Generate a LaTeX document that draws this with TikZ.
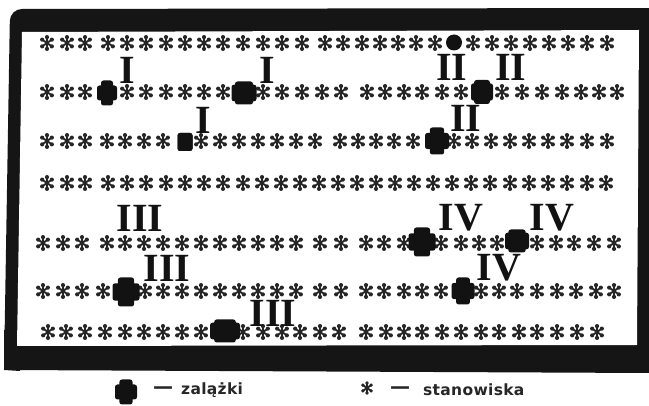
\documentclass[tikz,border=0pt]{standalone}
\usepackage{fontspec}
\newfontfamily\romfont{Liberation Serif}
\newfontfamily\legfont{DejaVu Sans}[LetterSpace=2]
\definecolor{framec}{HTML}{151515}
\definecolor{astc}{HTML}{262626}
\definecolor{blobc}{HTML}{121212}
\newcommand\myblob[5]{%
  \fill[blobc, rounded corners=2.5pt] ({#1-#3/2},{#2-#5*#4/2}) rectangle ({#1+#3/2},{#2+#5*#4/2});
  \fill[blobc, rounded corners=2.5pt] ({#1-#5*#3/2},{#2-#4/2}) rectangle ({#1+#5*#3/2},{#2+#4/2});
}
\tikzset{
  ast/.pic={
    \foreach \a in {90,35,145}{\draw[astc, line width=1.9pt, line cap=round] (\a:5.7pt) -- (\a+180:5.7pt);}
    \foreach \a in {35,90,145,215,270,325}{\fill[astc] (\a:5.9pt) circle [radius=2.1pt];}
  },
  rom/.style={font=\romfont\bfseries\fontsize{40}{40}\selectfont, text=blobc, inner sep=0pt},
  legtext/.style={font=\legfont\bfseries\fontsize{15.5}{16}\selectfont, text=astc, inner sep=0pt},
  legdash/.style={font=\legfont\bfseries\fontsize{20}{20}\selectfont, text=astc, inner sep=0pt},
}
\begin{document}
\begin{tikzpicture}[x=1pt,y=-1pt]
\useasboundingbox (0,0) rectangle (649,406);
\fill[white] (0,0) rectangle (649,406);
% frame
\fill[framec, rounded corners=12pt] (4,370) -- (10,9) -- (649,8) -- (649,373) -- cycle;
\fill[framec] (600,8) rectangle (649,60);
\fill[framec] (600,330) rectangle (649,373);
\fill[framec] (4,330) -- (20,330) -- (20,371) -- (4,370) -- cycle;
\fill[white] (22,32) -- (639,30) -- (637,345) -- (17,346) -- cycle;
% row 1
\foreach \x in {47,67,85,108,127,146,166,185,204,223,243,263,282,302,325,343,362,380,398,416,435,473,492,511,530,549,568,587,607}
  \pic at (\x,43) {ast};
% row 2
\foreach \x in {47,67,85,127,146,166,185,204,223,263,282,302,322,341,367,385,404,422,442,461,502,522,542,562,581,599,617}
  \pic at (\x,92) {ast};
% row 3
\foreach \x in {47,67,85,107,125,144,163,201,220,239,258,277,296,315,340,358,376,394,413,454,472,491,510,529,548,567,587,607}
  \pic at (\x,141) {ast};
% row 4
\foreach \x in {47,67,85,108,127,146,166,185,204,223,243,262,281,300,319,338,357,376,395,414,433,452,471,490,510,529,548,567,587,606}
  \pic at (\x,183) {ast};
% row 5
\foreach \x in {43,63,82,107,125,144,163,182,201,220,239,258,277,296,320,341,366,384,404,441,461,479,497,537,556,574,594,614}
  \pic at (\x,243) {ast};
% row 6
\foreach \x in {43,63,82,103,145,163,182,201,220,239,258,277,296,320,341,366,384,404,422,441,481,499,517,537,557,576,596,614}
  \pic at (\x,291) {ast};
% row 7
\foreach \x in {48,66,85,105,125,144,163,182,201,243,263,282,300,320,339,366,386,404,422,442,461,481,499,519,537,557,577,597}
  \pic at (\x,332) {ast};
% blobs
\fill[blobc] (454,42.5) circle [radius=8pt];
\myblob{107}{93}{20}{25}{0.6}
\myblob{244}{93}{25}{23}{0.72}
\myblob{482}{92}{22}{24}{0.72}
\myblob{185}{142}{15}{18}{1}
\myblob{437}{141}{24}{27}{0.6}
\myblob{422}{242}{27}{29}{0.6}
\myblob{517}{241}{24}{23}{0.72}
\myblob{126}{292}{27}{29}{0.6}
\myblob{463}{291}{23}{27}{0.6}
\myblob{225}{331}{30}{23}{0.72}
% numerals
\node[rom] (n1) at (127,70) {I};
\node[rom] (n2) at (267,70) {I};
\node[rom] (n3) at (203,120) {I};
\node[rom] (n4) at (452,67) {II};
\node[rom] (n5) at (511,67) {II};
\node[rom] (n6) at (466,118) {II};
\node[rom] (n7) at (140,218) {III};
\node[rom] (n8) at (167,268) {III};
\node[rom] (n9) at (273,313) {III};
\node[rom] (n10) at (461,218) {IV};
\node[rom] (n11) at (552,218) {IV};
\node[rom] (n12) at (499,268) {IV};
% legend
\myblob{126}{392}{22}{25}{0.6}
\node[legdash] (d1) at (163,390) {—};
\node[legtext, anchor=west] (t1) at (181,390) {zalążki};
\pic[scale=0.85] at (367,388) {ast};
\node[legdash] (d2) at (400,390) {—};
\node[legtext, anchor=west] (t2) at (423,390) {stanowiska};
\end{tikzpicture}
\end{document}
